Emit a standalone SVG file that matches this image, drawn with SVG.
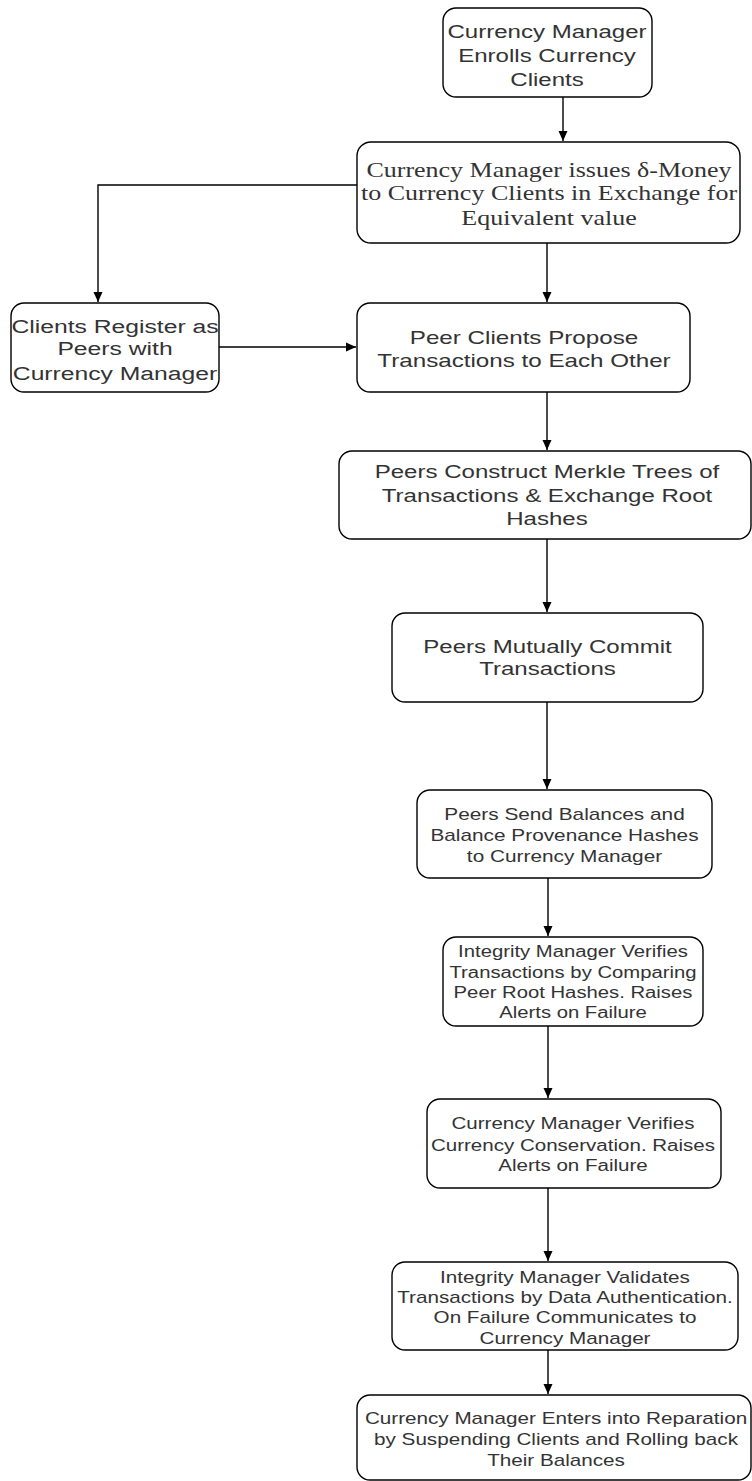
<svg xmlns="http://www.w3.org/2000/svg" width="752" height="1481" viewBox="0 0 752 1481">
<style>
.box{fill:#fff;stroke:#000;stroke-width:1.4}
.t{font-family:"Liberation Sans",Arial,sans-serif;fill:#333;text-anchor:middle}
.s{font-family:"Liberation Serif","Times New Roman",serif;fill:#333;text-anchor:middle}
.c{fill:none;stroke:#000;stroke-width:1.4}
</style>
<defs>
<marker id="ah" markerUnits="userSpaceOnUse" markerWidth="12" markerHeight="12" viewBox="0 0 12 12" refX="11" refY="6" orient="auto">
<path d="M1,1.5 L11,6 L1,10.5 Z" fill="#000"/>
</marker>
</defs>
<rect width="752" height="1481" fill="#fff"/>
<g id="connectors">
<path class="c" d="M563,97 V141" marker-end="url(#ah)"/>
<path class="c" d="M357,185 H98 V302" marker-end="url(#ah)"/>
<path class="c" d="M547,243 V302" marker-end="url(#ah)"/>
<path class="c" d="M219,347 H356" marker-end="url(#ah)"/>
<path class="c" d="M547,392 V450" marker-end="url(#ah)"/>
<path class="c" d="M547,539 V612" marker-end="url(#ah)"/>
<path class="c" d="M547,702 V789" marker-end="url(#ah)"/>
<path class="c" d="M548,878 V936" marker-end="url(#ah)"/>
<path class="c" d="M548,1026 V1098" marker-end="url(#ah)"/>
<path class="c" d="M548,1188 V1261" marker-end="url(#ah)"/>
<path class="c" d="M548,1350 V1394" marker-end="url(#ah)"/>
</g>
<g id="n1">
<rect class="box" x="443" y="8" width="209" height="89" rx="13"/>
<g class="t" font-size="18.5">
<text transform="translate(547 0) scale(1.3 1)" y="38.5">Currency Manager</text>
<text transform="translate(547 0) scale(1.3 1)" y="62.5">Enrolls Currency</text>
<text transform="translate(547 0) scale(1.3 1)" y="86">Clients</text>
</g>
</g>
<g id="n2">
<rect class="box" x="357" y="142" width="383" height="101" rx="14"/>
<g class="s" font-size="20">
<text transform="translate(549 0) scale(1.3 1)" y="177">Currency Manager issues δ-Money</text>
<text transform="translate(549 0) scale(1.3 1)" y="200.5">to Currency Clients in Exchange for</text>
<text transform="translate(549 0) scale(1.3 1)" y="225">Equivalent value</text>
</g>
</g>
<g id="n3">
<rect class="box" x="11" y="303" width="208" height="89" rx="13"/>
<g class="t" font-size="19">
<text transform="translate(115 0) scale(1.3 1)" y="333">Clients Register as</text>
<text transform="translate(115 0) scale(1.3 1)" y="355.5">Peers with</text>
<text transform="translate(115 0) scale(1.3 1)" y="380">Currency Manager</text>
</g>
</g>
<g id="n4">
<rect class="box" x="357" y="303" width="333" height="89" rx="13"/>
<g class="t" font-size="18.6">
<text transform="translate(524 0) scale(1.3 1)" y="344">Peer Clients Propose</text>
<text transform="translate(524 0) scale(1.3 1)" y="367">Transactions to Each Other</text>
</g>
</g>
<g id="n5">
<rect class="box" x="339" y="451" width="412" height="88" rx="13"/>
<g class="t" font-size="18.5">
<text transform="translate(547 0) scale(1.3 1)" y="478.5">Peers Construct Merkle Trees of</text>
<text transform="translate(547 0) scale(1.3 1)" y="502.5">Transactions &amp; Exchange Root</text>
<text transform="translate(547 0) scale(1.3 1)" y="525.5">Hashes</text>
</g>
</g>
<g id="n6">
<rect class="box" x="392" y="613" width="311" height="89" rx="13"/>
<g class="t" font-size="18.5">
<text transform="translate(547.5 0) scale(1.3 1)" y="653.5">Peers Mutually Commit</text>
<text transform="translate(547.5 0) scale(1.3 1)" y="675.5">Transactions</text>
</g>
</g>
<g id="n7">
<rect class="box" x="417" y="790" width="295" height="88" rx="13"/>
<g class="t" font-size="16">
<text transform="translate(564.5 0) scale(1.3 1)" y="819.6">Peers Send Balances and</text>
<text transform="translate(564.5 0) scale(1.3 1)" y="840.6">Balance Provenance Hashes</text>
<text transform="translate(564.5 0) scale(1.3 1)" y="861.6">to Currency Manager</text>
</g>
</g>
<g id="n8">
<rect class="box" x="443" y="937" width="260" height="89" rx="13"/>
<g class="t" font-size="15.6">
<text transform="translate(573 0) scale(1.3 1)" y="957.5">Integrity Manager Verifies</text>
<text transform="translate(573 0) scale(1.3 1)" y="978.5">Transactions by Comparing</text>
<text transform="translate(573 0) scale(1.3 1)" y="998.5">Peer Root Hashes. Raises</text>
<text transform="translate(573 0) scale(1.3 1)" y="1018.5">Alerts on Failure</text>
</g>
</g>
<g id="n9">
<rect class="box" x="427" y="1099" width="294" height="89" rx="13"/>
<g class="t" font-size="15.8">
<text transform="translate(573 0) scale(1.3 1)" y="1128.6">Currency Manager Verifies</text>
<text transform="translate(573 0) scale(1.3 1)" y="1150.6">Currency Conservation. Raises</text>
<text transform="translate(573 0) scale(1.3 1)" y="1170.6">Alerts on Failure</text>
</g>
</g>
<g id="n10">
<rect class="box" x="392" y="1262" width="346" height="88" rx="13"/>
<g class="t" font-size="15.9">
<text transform="translate(565 0) scale(1.3 1)" y="1282.6">Integrity Manager Validates</text>
<text transform="translate(565 0) scale(1.3 1)" y="1302.6">Transactions by Data Authentication.</text>
<text transform="translate(565 0) scale(1.3 1)" y="1322.6">On Failure Communicates to</text>
<text transform="translate(565 0) scale(1.3 1)" y="1343.6">Currency Manager</text>
</g>
</g>
<g id="n11">
<rect class="box" x="357" y="1395" width="394" height="85" rx="13"/>
<g class="t" font-size="15.9">
<text transform="translate(556 0) scale(1.3 1)" y="1423.6">Currency Manager Enters into Reparation</text>
<text transform="translate(556 0) scale(1.3 1)" y="1444.6">by Suspending Clients and Rolling back</text>
<text transform="translate(556 0) scale(1.3 1)" y="1465.6">Their Balances</text>
</g>
</g>
</svg>
